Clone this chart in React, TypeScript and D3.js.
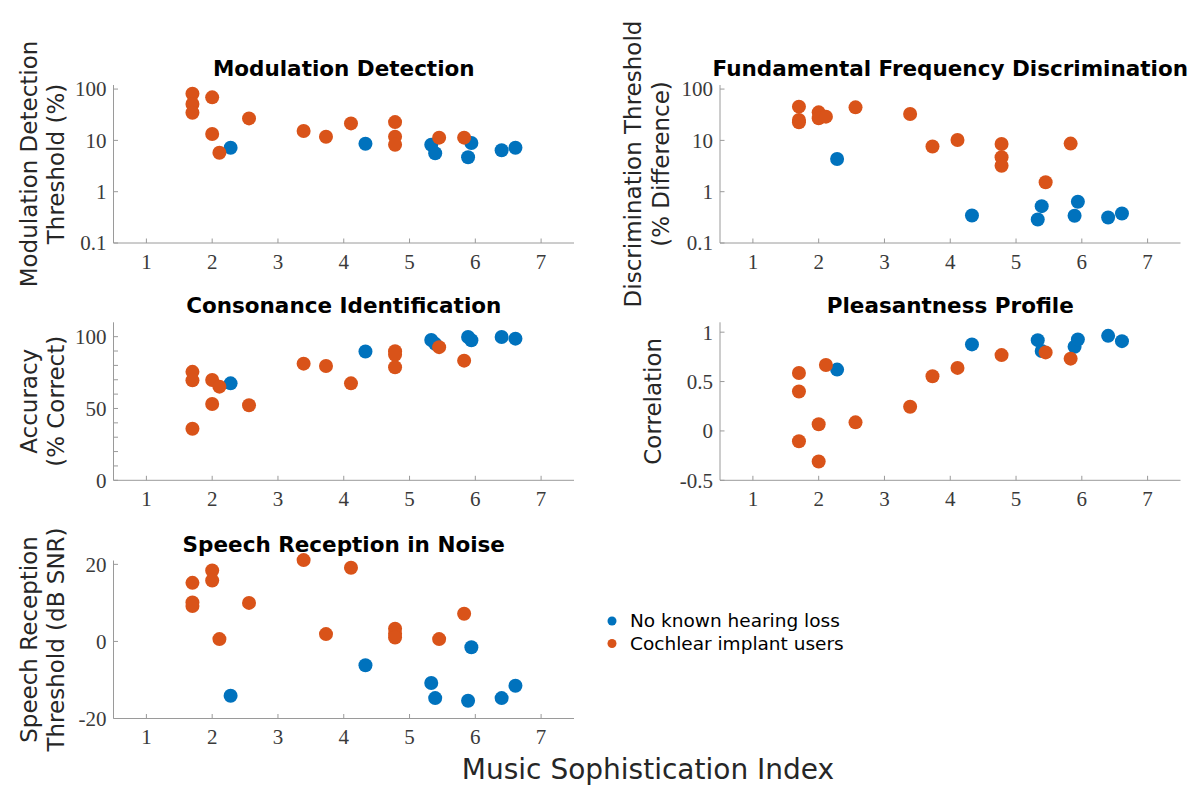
import React, { useEffect, useRef } from 'react';
import * as d3 from 'd3';

// Music Sophistication Index of each participant
const ciMsi = [1.7, 1.7, 1.7, 2.0, 2.0, 2.11, 2.56, 3.39, 3.73, 4.11, 4.78, 4.78, 4.78, 5.45, 5.83];
const nhMsi = [2.28, 4.33, 5.33, 5.39, 5.89, 5.94, 6.4, 6.61];

// Modulation detection threshold (%)
const modCI = [81, 51, 34.6, 69, 13.3, 5.75, 26.8, 15.2, 11.8, 21.4, 22.7, 11.8, 8.2, 11.3, 11.3];
const modNH = [7.2, 8.6, 8.2, 5.6, 4.7, 8.9, 6.4, 7.2];

// F0 discrimination threshold (% difference)
const ffdCI = [45.4, 25, 22.5, 35.2, 26.9, 29.0, 44, 32.7, 7.6, 10.2, 8.5, 4.7, 3.2, 1.53, 8.65];
const ffdNH = [4.35, 0.344, 0.288, 0.523, 0.34, 0.635, 0.315, 0.377];

// Consonance identification accuracy (% correct)
const consCI = [75.5, 69.6, 35.9, 69.8, 53.1, 65.2, 52.2, 81.2, 79.6, 67.5, 89.9, 87.4, 78.7, 92.7, 83.3];
const consNH = [67.5, 89.7, 97.7, 95, 99.8, 97.5, 99.8, 98.6];

// Pleasantness profile correlation
const pleasCI = [0.587, 0.399, -0.104, 0.067, -0.309, 0.668, 0.087, 0.245, 0.554, 0.638, 0.768, null, null, 0.795, 0.732];
const pleasNH = [0.621, 0.876, 0.919, 0.809, 0.852, 0.926, 0.963, 0.909];

// Speech reception threshold (dB SNR)
const srtCI = [15.2, 10.1, 9.2, 18.4, 15.8, 0.6, 10.0, 21.1, 1.9, 19.1, 3.3, 2.0, 1.0, 0.6, 7.2];
const srtNH = [-14.1, -6.2, -10.8, -14.7, -15.4, -1.5, -14.7, -11.5];

const xTicks = [1, 2, 3, 4, 5, 6, 7];
const logTicks = [0.1, 1, 10, 100];
const consTicks = [0, 50, 100];
const consMinor = [0, 10, 20, 30, 40, 50, 60, 70, 80, 90, 100];
const pleasTicks = [-0.5, 0, 0.5, 1];
const srtTicks = [-20, 0, 20];

const seriesNames = ['No known hearing loss', 'Cochlear implant users'];
const BLUE = '#0072BD';
const ORANGE = '#D95319';

interface PanelDef {
  title: string;
  ylabel: string[];
  log: boolean;
  domain: [number, number];
  ticks: number[];
  minor?: number[];
  ci: (number | null)[];
  nh: (number | null)[];
  col: number;
  row: number;
}

const panels: PanelDef[] = [
  { title: 'Modulation Detection', ylabel: ['Modulation Detection', 'Threshold (%)'], log: true, domain: [0.1, 120], ticks: logTicks, ci: modCI, nh: modNH, col: 0, row: 0 },
  { title: 'Fundamental Frequency Discrimination', ylabel: ['Discrimination Threshold', '(% Difference)'], log: true, domain: [0.1, 120], ticks: logTicks, ci: ffdCI, nh: ffdNH, col: 1, row: 0 },
  { title: 'Consonance Identification', ylabel: ['Accuracy', '(% Correct)'], log: false, domain: [0, 110], ticks: consTicks, minor: consMinor, ci: consCI, nh: consNH, col: 0, row: 1 },
  { title: 'Pleasantness Profile', ylabel: ['Correlation'], log: false, domain: [-0.5, 1.1], ticks: pleasTicks, ci: pleasCI, nh: pleasNH, col: 1, row: 1 },
  { title: 'Speech Reception in Noise', ylabel: ['Speech Reception', 'Threshold (dB SNR)'], log: false, domain: [-20, 21], ticks: srtTicks, ci: srtCI, nh: srtNH, col: 0, row: 2 },
];

const App: React.FC = () => {
  const svgRef = useRef<SVGSVGElement>(null);

  useEffect(() => {
    if (!svgRef.current) return;
    const svg = d3.select(svgRef.current);
    svg.selectAll('*').remove();

    const colLeft = [113.5, 720];
    const axW = 460.5;
    const rowTop = [85, 322.3, 560.5];
    const axH = 158;
    const ylabelX = [[29, 56], [633, 661]];
    const axisColor = '#9a9a9a';
    const tickFont = '"Liberation Serif", serif';
    const sans = '"DejaVu Sans", sans-serif';

    panels.forEach(p => {
      const g = svg.append('g')
        .attr('transform', `translate(${colLeft[p.col]},${rowTop[p.row]})`);

      const x = d3.scaleLinear().domain([0.5, 7.5]).range([0, axW]);
      const y = p.log
        ? d3.scaleLog().domain(p.domain).range([axH, 0])
        : d3.scaleLinear().domain(p.domain).range([axH, 0]);

      // axes lines
      g.append('line').attr('x1', 0).attr('x2', axW).attr('y1', axH).attr('y2', axH)
        .attr('stroke', axisColor).attr('stroke-width', 1);
      g.append('line').attr('x1', 0).attr('x2', 0).attr('y1', 0).attr('y2', axH)
        .attr('stroke', axisColor).attr('stroke-width', 1);

      // x ticks (inward)
      g.append('g').selectAll('line').data(xTicks).join('line')
        .attr('x1', d => x(d)).attr('x2', d => x(d))
        .attr('y1', axH).attr('y2', axH - 4.5)
        .attr('stroke', axisColor);
      g.append('g').selectAll('text').data(xTicks).join('text')
        .attr('x', d => x(d)).attr('y', axH + 25.5)
        .attr('text-anchor', 'middle')
        .attr('font-family', tickFont).attr('font-size', 21).attr('fill', '#3a3a3a')
        .text(d => d);

      // y ticks
      const tickMarks = p.minor || p.ticks;
      g.append('g').selectAll('line').data(tickMarks).join('line')
        .attr('x1', 0).attr('x2', 4.5)
        .attr('y1', d => y(d)).attr('y2', d => y(d))
        .attr('stroke', axisColor);
      g.append('g').selectAll('text').data(p.ticks).join('text')
        .attr('x', -7).attr('y', d => y(d))
        .attr('dy', '0.35em')
        .attr('text-anchor', 'end')
        .attr('font-family', tickFont).attr('font-size', 21).attr('fill', '#3a3a3a')
        .text(d => String(d));

      // title
      g.append('text')
        .attr('x', axW / 2).attr('y', -9)
        .attr('text-anchor', 'middle')
        .attr('font-family', sans).attr('font-weight', 'bold').attr('font-size', 21.5)
        .attr('fill', '#000')
        .text(p.title);

      // y label
      const lx = p.ylabel.length === 1 ? [ylabelX[p.col][0] + 20] : ylabelX[p.col];
      p.ylabel.forEach((t, i) => {
        const cx = lx[i] - colLeft[p.col];
        g.append('text')
          .attr('transform', `translate(${cx},${axH / 2}) rotate(-90)`)
          .attr('text-anchor', 'middle')
          .attr('dy', '0.35em')
          .attr('font-family', sans).attr('font-size', 23).attr('fill', '#262626')
          .text(t);
      });

      // points: blue then orange on top
      const nhPts = nhMsi.map((m, i) => ({ m, v: p.nh[i] })).filter(d => d.v != null);
      const ciPts = ciMsi.map((m, i) => ({ m, v: p.ci[i] })).filter(d => d.v != null);
      g.append('g').selectAll('circle').data(nhPts).join('circle')
        .attr('cx', d => x(d.m)).attr('cy', d => y(d.v as number))
        .attr('r', 7).attr('fill', BLUE);
      g.append('g').selectAll('circle').data(ciPts).join('circle')
        .attr('cx', d => x(d.m)).attr('cy', d => y(d.v as number))
        .attr('r', 7).attr('fill', ORANGE);
    });

    // shared x label
    svg.append('text')
      .attr('x', 648).attr('y', 779)
      .attr('text-anchor', 'middle')
      .attr('font-family', sans).attr('font-size', 28).attr('fill', '#262626')
      .text('Music Sophistication Index');

    // legend
    const legend = svg.append('g').selectAll('g').data(seriesNames).join('g')
      .attr('transform', (d, i) => `translate(612,${621 + i * 22.5})`);
    legend.append('circle').attr('r', 4.5).attr('fill', (d, i) => (i === 0 ? BLUE : ORANGE));
    legend.append('text')
      .attr('x', 18).attr('dy', '0.35em')
      .attr('font-family', sans).attr('font-size', 18.5).attr('fill', '#000')
      .text(d => d);
  }, []);

  return (
    <svg
      ref={svgRef}
      width={1196}
      height={785}
      style={{ position: 'absolute', left: 0, top: 0, background: '#fff' }}
    />
  );
};

export default App;
